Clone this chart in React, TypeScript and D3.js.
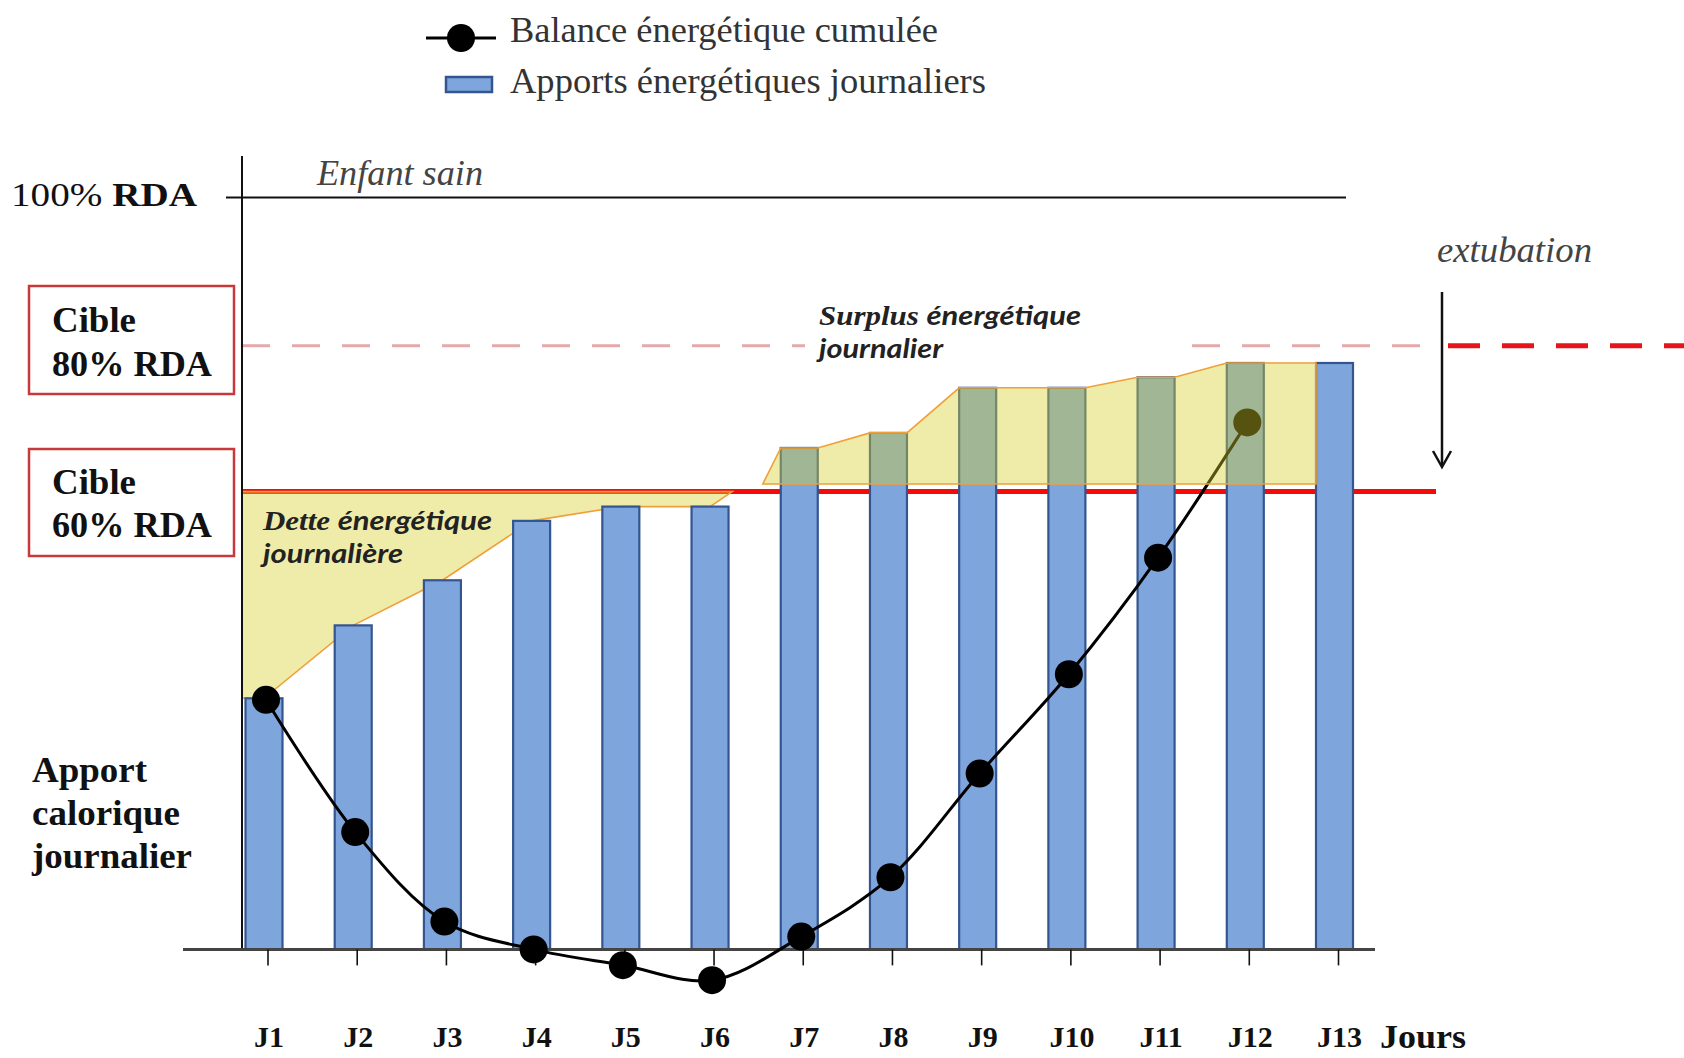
import React from "react";
import * as d3 from "d3";

// ---- data ----
const days = ["J1", "J2", "J3", "J4", "J5", "J6", "J7", "J8", "J9", "J10", "J11", "J12", "J13"];
// daily energy intake (% of RDA, schematic)
const dailyIntake = [33.4, 43.1, 49.1, 57.0, 58.9, 58.9, 66.7, 68.7, 74.7, 74.7, 76.1, 78.0, 78.0];
// cumulated energy balance (schematic, J1..J12)
const balanceDays = ["J1", "J2", "J3", "J4", "J5", "J6", "J7", "J8", "J9", "J10", "J11", "J12"];
const cumulativeBalance = [33.2, 15.6, 3.7, 0, -2.1, -4.1, 1.7, 9.6, 23.4, 36.6, 52.1, 70.1];
// reference levels
const levelRDA = 100;
const levelTarget80 = 80.3;
const levelTarget60 = 60.9;
const surplusBase = 61.9;
const debtDays = ["J1", "J2", "J3", "J4", "J5", "J6"];
const surplusDays = ["J7", "J8", "J9", "J10", "J11", "J12"];

const W = 1684;
const H = 1058;

const serif = "'Liberation Serif', 'Times New Roman', serif";
const sans = "Lato, 'Open Sans', sans-serif";

export default function App() {
  const x = d3.scalePoint<string>().domain(days).range([264, 1334.5]);
  const y = d3.scaleLinear().domain([0, 100]).range([949.4, 197.6]);
  const bw = 37;
  const axisX = 242;
  const val = (d: string) => dailyIntake[days.indexOf(d)];

  const lineGen = d3
    .line<number>()
    .x((_, i) => x(balanceDays[i])! + 2)
    .y((d) => y(d))
    .curve(d3.curveCatmullRom.alpha(0.5));

  const poly = d3.line<[number, number]>();

  const debtPts: [number, number][] = [
    [axisX, y(levelTarget60)],
    [axisX, y(val("J1"))],
    ...debtDays.map((d) => [x(d)!, y(val(d))] as [number, number]),
    [x("J6")! + bw * 0.6, y(levelTarget60)],
  ];

  const surplusPts: [number, number][] = [
    [x("J7")! - bw / 2 - 18, y(surplusBase)],
  ];
  surplusDays.forEach((d) => {
    surplusPts.push([x(d)! - bw / 2, y(val(d))]);
    surplusPts.push([x(d)! + bw / 2, y(val(d))]);
  });
  surplusPts.push([x("J13")! - bw / 2, y(val("J13"))]);
  surplusPts.push([x("J13")! - bw / 2, y(surplusBase)]);

  const yellowFill = "rgb(214,208,40)";
  const yellowOp = 0.4;
  const orange = "#f0a038";
  const barFill = "#7ea6dd";
  const barStroke = "#34558f";

  return (
    <svg
      width={W}
      height={H}
      style={{ position: "absolute", left: 0, top: 0, background: "#fff" }}
    >
      <rect x={0} y={0} width={W} height={H} fill="#fff" />

      {/* Legend */}
      <line x1={426} x2={496} y1={38} y2={38} stroke="#000" strokeWidth={3} />
      <circle cx={461} cy={38} r={14} fill="#000" />
      <text x={510} y={42} fontFamily={serif} fontSize={35} fill="#333" textLength={428} lengthAdjust="spacingAndGlyphs">
        Balance énergétique cumulée
      </text>
      <rect x={446} y={77} width={46} height={15} fill={barFill} stroke={barStroke} strokeWidth={2.5} />
      <text x={510} y={93} fontFamily={serif} fontSize={35} fill="#333" textLength={476} lengthAdjust="spacingAndGlyphs">
        Apports énergétiques journaliers
      </text>

      {/* 100% RDA line */}
      <line x1={226} x2={1346} y1={y(levelRDA)} y2={y(levelRDA)} stroke="#111" strokeWidth={2} />
      <text x={11} y={206} fontFamily={serif} fontSize={34} fill="#111" textLength={186} lengthAdjust="spacingAndGlyphs">
        <tspan>100% </tspan>
        <tspan fontWeight="bold">RDA</tspan>
      </text>
      <text x={317} y={185} fontFamily={serif} fontSize={35} fontStyle="italic" fill="#444" textLength={166} lengthAdjust="spacingAndGlyphs">
        Enfant sain
      </text>

      {/* 80% target dashed lines */}
      <line x1={axisX} x2={1428} y1={y(levelTarget80)} y2={y(levelTarget80)} stroke="#e3a9ab" strokeWidth={3} strokeDasharray="28 22" />
      <line x1={1448} x2={W} y1={y(levelTarget80)} y2={y(levelTarget80)} stroke="#e8141a" strokeWidth={5} strokeDasharray="32 22" />

      {/* 60% target red line */}
      <line x1={axisX} x2={1436} y1={y(levelTarget60)} y2={y(levelTarget60)} stroke="#f50a0a" strokeWidth={5} />

      {/* Debt area (under bars) */}
      <path d={poly(debtPts)! + "Z"} fill={yellowFill} fillOpacity={yellowOp} stroke={orange} strokeWidth={1.6} />

      {/* Bars */}
      {days.map((d, i) => (
        <rect
          key={d}
          x={x(d)! - bw / 2}
          y={y(dailyIntake[i])}
          width={bw}
          height={y(0) - y(dailyIntake[i])}
          fill={barFill}
          stroke={barStroke}
          strokeWidth={2.2}
        />
      ))}

      {/* Axes */}
      <line x1={axisX} x2={axisX} y1={156} y2={y(0)} stroke="#111" strokeWidth={2} />
      <line x1={183} x2={1375} y1={y(0)} y2={y(0)} stroke="#444" strokeWidth={3} />
      {days.map((d) => (
        <line key={"t" + d} x1={x(d)! + 4} x2={x(d)! + 4} y1={y(0)} y2={y(0) + 16} stroke="#111" strokeWidth={1.6} />
      ))}

      {/* Cumulated balance line */}
      <path d={lineGen(cumulativeBalance)!} fill="none" stroke="#000" strokeWidth={3} />
      {cumulativeBalance.map((v, i) => (
        <circle key={"c" + i} cx={x(balanceDays[i])! + 2} cy={y(v)} r={14} fill="#000" />
      ))}

      {/* Surplus area (over bars) */}
      <path d={poly(surplusPts)! + "Z"} fill={yellowFill} fillOpacity={yellowOp} stroke={orange} strokeWidth={1.6} />

      {/* Target boxes */}
      <rect x={29} y={286} width={205} height={108} fill="#fff" stroke="#c8393b" strokeWidth={2.5} />
      <text x={52} y={332} fontFamily={serif} fontSize={35} fontWeight="bold" fill="#111" textLength={84} lengthAdjust="spacingAndGlyphs">Cible</text>
      <text x={52} y={376} fontFamily={serif} fontSize={35} fontWeight="bold" fill="#111" textLength={160} lengthAdjust="spacingAndGlyphs">80% RDA</text>
      <rect x={29} y={449} width={205} height={107} fill="#fff" stroke="#c8393b" strokeWidth={2.5} />
      <text x={52} y={494} fontFamily={serif} fontSize={35} fontWeight="bold" fill="#111" textLength={84} lengthAdjust="spacingAndGlyphs">Cible</text>
      <text x={52} y={537} fontFamily={serif} fontSize={35} fontWeight="bold" fill="#111" textLength={160} lengthAdjust="spacingAndGlyphs">60% RDA</text>

      {/* Surplus label with white background */}
      <rect x={805} y={296} width={375} height={74} fill="#fff" />
      <text x={819} y={325} fontSize={27} fontWeight="bold" fontStyle="italic" fill="#222" textLength={262} lengthAdjust="spacingAndGlyphs">
        <tspan fontFamily={serif}>Surplus </tspan>
        <tspan fontFamily={sans}>énergétique</tspan>
      </text>
      <text x={819} y={358} fontFamily={sans} fontSize={27} fontWeight="bold" fontStyle="italic" fill="#222" textLength={124} lengthAdjust="spacingAndGlyphs">
        journalier
      </text>

      {/* Debt label */}
      <text x={263} y={530} fontSize={27} fontWeight="bold" fontStyle="italic" fill="#222" textLength={229} lengthAdjust="spacingAndGlyphs">
        <tspan fontFamily={serif}>Dette </tspan>
        <tspan fontFamily={sans}>énergétique</tspan>
      </text>
      <text x={263} y={563} fontFamily={sans} fontSize={27} fontWeight="bold" fontStyle="italic" fill="#222" textLength={140} lengthAdjust="spacingAndGlyphs">
        journalière
      </text>

      {/* Extubation marker */}
      <text x={1437} y={262} fontFamily={serif} fontSize={35} fontStyle="italic" fill="#444" textLength={155} lengthAdjust="spacingAndGlyphs">
        extubation
      </text>
      <line x1={1442} x2={1442} y1={292} y2={466} stroke="#111" strokeWidth={2.5} />
      <path d="M1433,451 L1442,467 L1451,451" fill="none" stroke="#111" strokeWidth={2.5} />

      {/* Y axis title */}
      <text x={32} y={782} fontFamily={serif} fontSize={35} fontWeight="bold" fill="#111" textLength={115} lengthAdjust="spacingAndGlyphs">Apport</text>
      <text x={32} y={825} fontFamily={serif} fontSize={35} fontWeight="bold" fill="#111" textLength={148} lengthAdjust="spacingAndGlyphs">calorique</text>
      <text x={32} y={868} fontFamily={serif} fontSize={35} fontWeight="bold" fill="#111" textLength={160} lengthAdjust="spacingAndGlyphs">journalier</text>

      {/* X labels */}
      {days.map((d) => (
        <text key={"l" + d} x={x(d)! + 5} y={1047} textAnchor="middle" fontFamily={serif} fontSize={30} fontWeight="bold" fill="#111">
          {d}
        </text>
      ))}
      <text x={1380} y={1048} fontFamily={serif} fontSize={34} fontWeight="bold" fill="#111" textLength={86} lengthAdjust="spacingAndGlyphs">
        Jours
      </text>
    </svg>
  );
}
